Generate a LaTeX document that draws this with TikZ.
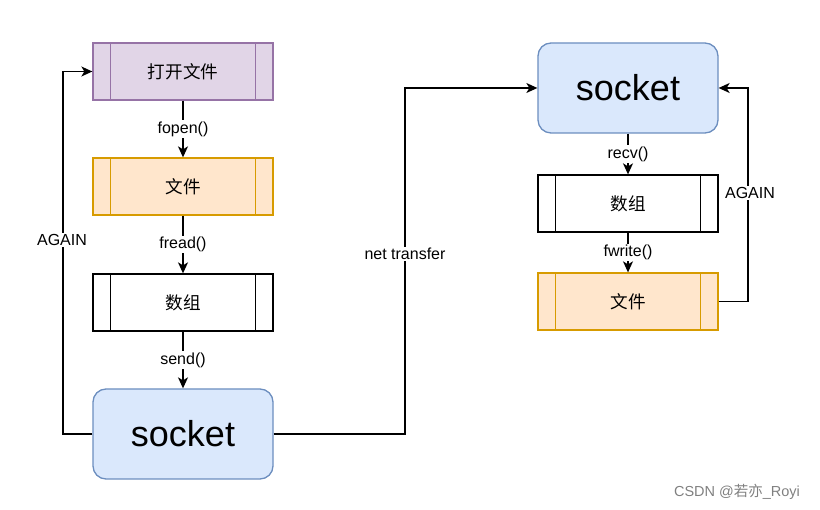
\documentclass[tikz,border=0pt]{standalone}
\usepackage{fontspec}
\setmainfont{Liberation Sans}
\newfontfamily\cjk{Noto Sans CJK SC}
\usetikzlibrary{arrows.meta,calc}
\definecolor{pfill}{HTML}{E1D5E7}
\definecolor{pdraw}{HTML}{9673A6}
\definecolor{ofill}{HTML}{FFE6CC}
\definecolor{odraw}{HTML}{D79B00}
\definecolor{bfill}{HTML}{DAE8FC}
\definecolor{bdraw}{HTML}{6C8EBF}
\begin{document}
\begin{tikzpicture}[x=1pt,y=-1pt,
  sub/.style={draw, minimum width=180pt, minimum height=57pt, line width=1.3pt, inner sep=0pt,
    font=\cjk\fontsize{17.6}{20}\selectfont},
  sock/.style={draw=bdraw, fill=bfill, rounded corners=13pt, minimum width=180pt, minimum height=90pt,
    line width=1.3pt, inner sep=0pt, font=\fontsize{36}{40}\selectfont},
  lbl/.style={fill=white, inner sep=1.5pt, font=\fontsize{16}{18}\selectfont},
  conn/.style={line width=1.3pt, -{Stealth[length=11pt,width=10pt,inset=3pt]}}]
\useasboundingbox (0,0) rectangle (820,510);
% left column
\node[sub, draw=pdraw, fill=pfill] (open) at (183,71.5) {打开文件};
\node[sub, draw=odraw, fill=ofill] (lfile) at (183,186.5) {文件};
\node[sub, draw=black, fill=white] (larr) at (183,302.5) {数组};
\node[sock] (ls) at (183,434) {socket};
% right column
\node[sock] (rs) at (628,88) {socket};
\node[sub, draw=black, fill=white] (rarr) at (628,203.5) {数组};
\node[sub, draw=odraw, fill=ofill] (rfile) at (628,301.5) {文件};
% subprocess inner lines
\foreach \n/\c in {open/pdraw, lfile/odraw, larr/black, rarr/black, rfile/odraw}{
  \draw[\c, line width=1.5pt] ([xshift=18pt]\n.north west) -- ([xshift=18pt]\n.south west);
  \draw[\c, line width=1.5pt] ([xshift=-18pt]\n.north east) -- ([xshift=-18pt]\n.south east);
}
% vertical connectors
\draw[conn] (open) -- node[lbl]{fopen()} (lfile);
\draw[conn] (lfile) -- node[lbl]{fread()} (larr);
\draw[conn] (larr) -- node[lbl]{send()} (ls);
\draw[conn] (rs) -- node[lbl]{recv()} (rarr);
\draw[conn] (rarr) -- node[lbl]{fwrite()} (rfile);
% loops
\coordinate (lc) at (63,434);
\draw[conn] (ls.west) -- (lc) |- (open.west);
\node[lbl] (againl) at (62,240) {AGAIN};
\coordinate (nc) at (405,434);
\draw[conn] (ls.east) -- (nc) |- (rs.west);
\node[lbl] (net) at (405,254) {net transfer};
\coordinate (rc) at (748,301.5);
\draw[conn] (rfile.east) -- (rc) |- (rs.east);
\node[lbl] (againr) at (750,193) {AGAIN};
% watermark
\node[text=black!50, font=\fontsize{14.5}{16}\selectfont, inner sep=0pt] (wm) at (737,492) {CSDN @{\cjk 若亦}\_Royi};
\end{tikzpicture}
\end{document}
